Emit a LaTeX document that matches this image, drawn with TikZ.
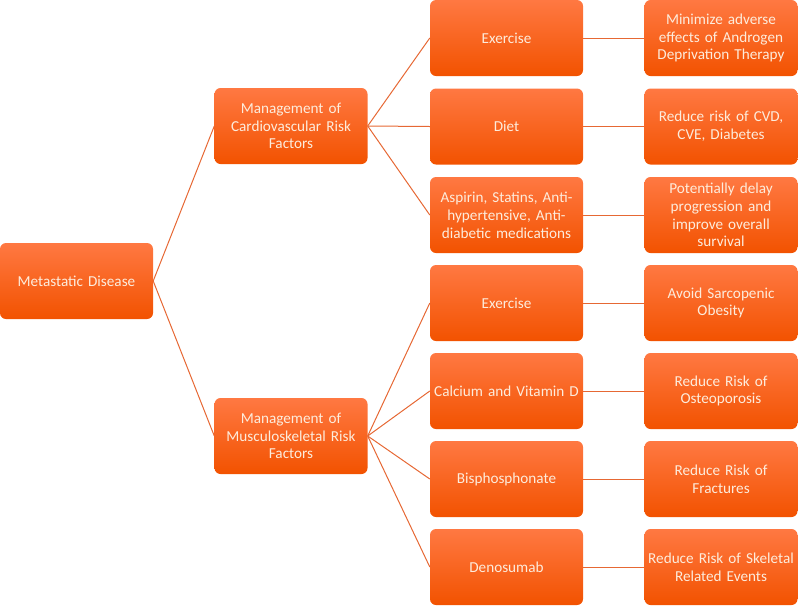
\documentclass[tikz,border=0pt]{standalone}
\usepackage{fontspec}
\setmainfont{Carlito}
\definecolor{boxtop}{RGB}{255,120,66}
\definecolor{boxbot}{RGB}{242,82,0}
\definecolor{boxtxt}{RGB}{253,236,220}
\definecolor{linkc}{RGB}{230,104,52}
\tikzset{
  box/.style={rounded corners=6pt, top color=boxtop, bottom color=boxbot, draw=none,
    minimum width=153pt, minimum height=76pt, text width=151pt, inner sep=1pt,
    align=center, text=boxtxt, font=\fontsize{15.2}{17.8}\selectfont},
  link/.style={draw=linkc, line width=1pt}
}
\begin{document}
\begin{tikzpicture}[x=1pt,y=-1pt]
\useasboundingbox (0,0) rectangle (798,606);
\node[box] (root) at (76.5,281) {Metastatic Disease};
\node[box] (cv) at (291,126) {Management of\\Cardiovascular Risk\\Factors};
\node[box] (ms) at (291,436) {Management of\\Musculoskeletal Risk\\Factors};
\node[box] (ex1) at (506.5,38) {Exercise};
\node[box] (diet) at (506.5,126.5) {Diet};
\node[box] (asp) at (506.5,215) {Aspirin, Statins, Anti-\\hypertensive, Anti-\\diabetic medications};
\node[box] (ex2) at (506.5,303) {Exercise};
\node[box] (cal) at (506.5,391) {Calcium and Vitamin D};
\node[box] (bis) at (506.5,479) {Bisphosphonate};
\node[box] (den) at (506.5,567) {Denosumab};
\node[box] (r1) at (721,38) {Minimize adverse\\effects of Androgen\\Deprivation Therapy};
\node[box] (r2) at (721,126.5) {Reduce risk of CVD,\\CVE, Diabetes};
\node[box] (r3) at (721,215) {Potentially delay\\progression and\\improve overall\\survival};
\node[box] (r4) at (721,303) {Avoid Sarcopenic\\Obesity};
\node[box] (r5) at (721,391) {Reduce Risk of\\Osteoporosis};
\node[box] (r6) at (721,479) {Reduce Risk of\\Fractures};
\node[box] (r7) at (721,567) {Reduce Risk of Skeletal\\Related Events};
\draw[link] (root.east) -- (cv.west);
\draw[link] (root.east) -- (ms.west);
\foreach \c in {ex1,diet,asp} \draw[link] (cv.east) -- (\c.west);
\foreach \c in {ex2,cal,bis,den} \draw[link] (ms.east) -- (\c.west);
\draw[link] (ex1.east) -- (r1.west);
\draw[link] (diet.east) -- (r2.west);
\draw[link] (asp.east) -- (r3.west);
\draw[link] (ex2.east) -- (r4.west);
\draw[link] (cal.east) -- (r5.west);
\draw[link] (bis.east) -- (r6.west);
\draw[link] (den.east) -- (r7.west);
\end{tikzpicture}
\end{document}
